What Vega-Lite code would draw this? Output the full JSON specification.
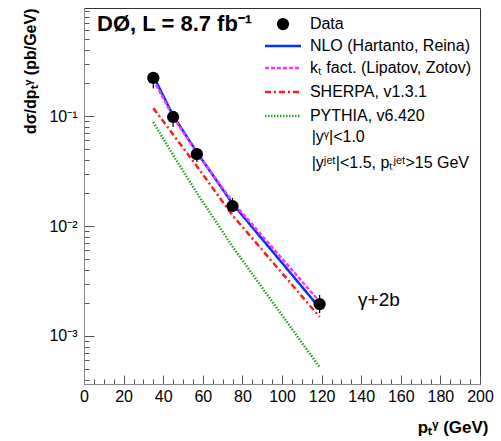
{
  "$schema": "https://vega.github.io/schema/vega-lite/v6.json",
  "width": 396,
  "height": 376,
  "autosize": {"type": "none"},
  "padding": {"left": 84, "top": 8, "right": 21, "bottom": 57},
  "background": "white",
  "config": {
    "view": {"stroke": "#333", "strokeWidth": 1},
    "font": "Liberation Sans"
  },
  "datasets": {
    "points": [
      {"pt": 35, "xs": 0.222, "lo": 0.178, "hi": 0.25},
      {"pt": 45, "xs": 0.098, "lo": 0.0794, "hi": 0.109},
      {"pt": 57, "xs": 0.045, "lo": 0.0382, "hi": 0.0512},
      {"pt": 75, "xs": 0.0152, "lo": 0.0134, "hi": 0.018},
      {"pt": 119, "xs": 0.00195, "lo": 0.00162, "hi": 0.00236}
    ],
    "theory": [
      {"series": "NLO", "pt": 35, "xs": 0.232},
      {"series": "NLO", "pt": 45, "xs": 0.101},
      {"series": "NLO", "pt": 57, "xs": 0.047},
      {"series": "NLO", "pt": 75, "xs": 0.0160},
      {"series": "NLO", "pt": 119, "xs": 0.0018},
      {"series": "kT", "pt": 35, "xs": 0.215},
      {"series": "kT", "pt": 45, "xs": 0.098},
      {"series": "kT", "pt": 57, "xs": 0.0465},
      {"series": "kT", "pt": 75, "xs": 0.0166},
      {"series": "kT", "pt": 119, "xs": 0.00205},
      {"series": "SHERPA", "pt": 35, "xs": 0.118},
      {"series": "SHERPA", "pt": 45, "xs": 0.068},
      {"series": "SHERPA", "pt": 57, "xs": 0.035},
      {"series": "SHERPA", "pt": 75, "xs": 0.0125},
      {"series": "SHERPA", "pt": 119, "xs": 0.00149},
      {"series": "PYTHIA", "pt": 35, "xs": 0.088},
      {"series": "PYTHIA", "pt": 45, "xs": 0.0442},
      {"series": "PYTHIA", "pt": 57, "xs": 0.020},
      {"series": "PYTHIA", "pt": 75, "xs": 0.0065},
      {"series": "PYTHIA", "pt": 119, "xs": 0.00052}
    ],
    "legendLines": [
      {"series": "NLO", "x1": 91.4, "x2": 109.6, "y": 0.433},
      {"series": "kT", "x1": 91.4, "x2": 109.6, "y": 0.273},
      {"series": "SHERPA", "x1": 91.4, "x2": 109.6, "y": 0.165},
      {"series": "PYTHIA", "x1": 91.4, "x2": 109.6, "y": 0.1}
    ],
    "legendDot": [{"x": 100.5, "y": 0.686}],
    "legendText": [
      {"label": "Data", "x": 114.1, "y": 0.686},
      {"label": "NLO (Hartanto, Reina)", "x": 114.1, "y": 0.433},
      {"label": "kₜ fact. (Lipatov, Zotov)", "x": 114.1, "y": 0.273},
      {"label": "SHERPA, v1.3.1", "x": 114.1, "y": 0.165},
      {"label": "PYTHIA, v6.420", "x": 114.1, "y": 0.1},
      {"label": "|yᵞ|<1.0", "x": 115, "y": 0.0644},
      {"label": "|yʲᵉᵗ|<1.5, pₜʲᵉᵗ>15 GeV", "x": 115, "y": 0.0374}
    ],
    "titleText": [{"label": "DØ, L = 8.7 fb⁻¹", "x": 6.6, "y": 0.686}],
    "procText": [{"label": "γ+2b", "x": 138.4, "y": 0.00212}]
  },
  "encoding": {
    "x": {
      "type": "quantitative",
      "scale": {"domain": [0, 200], "nice": false, "zero": false},
      "axis": {
        "title": "pₜᵞ (GeV)",
        "titleFont": "Liberation Sans",
        "titleFontSize": 17,
        "titleFontWeight": "bold",
        "titleX": 404,
        "titleY": 43,
        "titleAlign": "right",
        "titleBaseline": "middle",
        "values": [0,5,10,15,20,25,30,35,40,45,50,55,60,65,70,75,80,85,90,95,100,105,110,115,120,125,130,135,140,145,150,155,160,165,170,175,180,185,190,195,200],
        "labelExpr": "datum.value % 20 == 0 ? datum.label : ''",
        "labelFont": "Liberation Sans",
        "labelFontSize": 16,
        "labelColor": "black",
        "labelOverlap": false,
        "labelFlush": false,
        "labelPadding": 13,
        "grid": false,
        "domainColor": "#888",
        "tickColor": "#555",
        "tickSize": {"condition": {"test": "datum.value % 20 == 0", "value": -9}, "value": -5}
      }
    },
    "y": {
      "type": "quantitative",
      "scale": {"type": "log", "domain": [0.000366, 0.96], "nice": false, "zero": false},
      "axis": {
        "title": "dσ/dpₜᵞ (pb/GeV)",
        "titleFont": "Liberation Sans",
        "titleFontSize": 16,
        "titleFontWeight": "bold",
        "titleX": -54,
        "titleY": 0,
        "titleAngle": -90,
        "titleAlign": "right",
        "titleBaseline": "middle",
        "values": [0.0004,0.0005,0.0006,0.0007,0.0008,0.0009,0.001,0.002,0.003,0.004,0.005,0.006,0.007,0.008,0.009,0.01,0.02,0.03,0.04,0.05,0.06,0.07,0.08,0.09,0.1,0.2,0.3,0.4,0.5,0.6,0.7,0.8,0.9],
        "labelExpr": "datum.value == 0.1 ? '10⁻¹' : datum.value == 0.01 ? '10⁻²' : datum.value == 0.001 ? '10⁻³' : ''",
        "labelFont": "Liberation Sans",
        "labelFontSize": 16,
        "labelColor": "black",
        "labelOverlap": false,
        "labelFlush": false,
        "labelPadding": 17,
        "grid": false,
        "domainColor": "#888",
        "tickColor": "#555",
        "tickSize": {"condition": {"test": "datum.value == 0.1 || datum.value == 0.01 || datum.value == 0.001", "value": -10}, "value": -5}
      }
    }
  },
  "layer": [
    {
      "data": {"name": "theory"},
      "mark": {"type": "line", "strokeWidth": 2.5, "clip": true},
      "encoding": {
        "x": {"field": "pt", "type": "quantitative"},
        "y": {"field": "xs", "type": "quantitative"},
        "color": {
          "field": "series", "type": "nominal", "legend": null,
          "scale": {"domain": ["PYTHIA", "SHERPA", "kT", "NLO"], "range": ["#2ca02c", "#ff1a1a", "#ff33ff", "#0033ff"]}
        },
        "strokeDash": {
          "field": "series", "type": "nominal", "legend": null,
          "scale": {"domain": ["PYTHIA", "SHERPA", "kT", "NLO"], "range": [[1.5, 1.5], [6, 3, 2, 3], [4, 2], [1, 0]]}
        },
        "order": {"field": "series", "sort": "ascending"}
      }
    },
    {
      "data": {"name": "points"},
      "mark": {"type": "rule", "color": "black", "strokeWidth": 1.2},
      "encoding": {
        "x": {"field": "pt", "type": "quantitative"},
        "y": {"field": "lo", "type": "quantitative"},
        "y2": {"field": "hi"}
      }
    },
    {
      "data": {"name": "points"},
      "mark": {"type": "point", "shape": "circle", "filled": true, "color": "black", "opacity": 1, "size": 150},
      "encoding": {
        "x": {"field": "pt", "type": "quantitative"},
        "y": {"field": "xs", "type": "quantitative"}
      }
    },
    {
      "data": {"name": "legendLines"},
      "mark": {"type": "rule", "strokeWidth": 2.5},
      "encoding": {
        "x": {"field": "x1", "type": "quantitative"},
        "x2": {"field": "x2"},
        "y": {"field": "y", "type": "quantitative"},
        "color": {"field": "series", "type": "nominal", "legend": null},
        "strokeDash": {"field": "series", "type": "nominal", "legend": null}
      }
    },
    {
      "data": {"name": "legendDot"},
      "mark": {"type": "point", "shape": "circle", "filled": true, "color": "black", "opacity": 1, "size": 150},
      "encoding": {
        "x": {"field": "x", "type": "quantitative"},
        "y": {"field": "y", "type": "quantitative"}
      }
    },
    {
      "data": {"name": "legendText"},
      "mark": {"type": "text", "align": "left", "baseline": "middle", "font": "Liberation Sans", "fontSize": 16, "color": "black"},
      "encoding": {
        "x": {"field": "x", "type": "quantitative"},
        "y": {"field": "y", "type": "quantitative"},
        "text": {"field": "label"}
      }
    },
    {
      "data": {"name": "titleText"},
      "mark": {"type": "text", "align": "left", "baseline": "middle", "font": "Liberation Sans", "fontSize": 22, "fontWeight": "bold", "color": "black"},
      "encoding": {
        "x": {"field": "x", "type": "quantitative"},
        "y": {"field": "y", "type": "quantitative"},
        "text": {"field": "label"}
      }
    },
    {
      "data": {"name": "procText"},
      "mark": {"type": "text", "align": "left", "baseline": "middle", "font": "Liberation Sans", "fontSize": 19, "color": "black"},
      "encoding": {
        "x": {"field": "x", "type": "quantitative"},
        "y": {"field": "y", "type": "quantitative"},
        "text": {"field": "label"}
      }
    }
  ]
}
